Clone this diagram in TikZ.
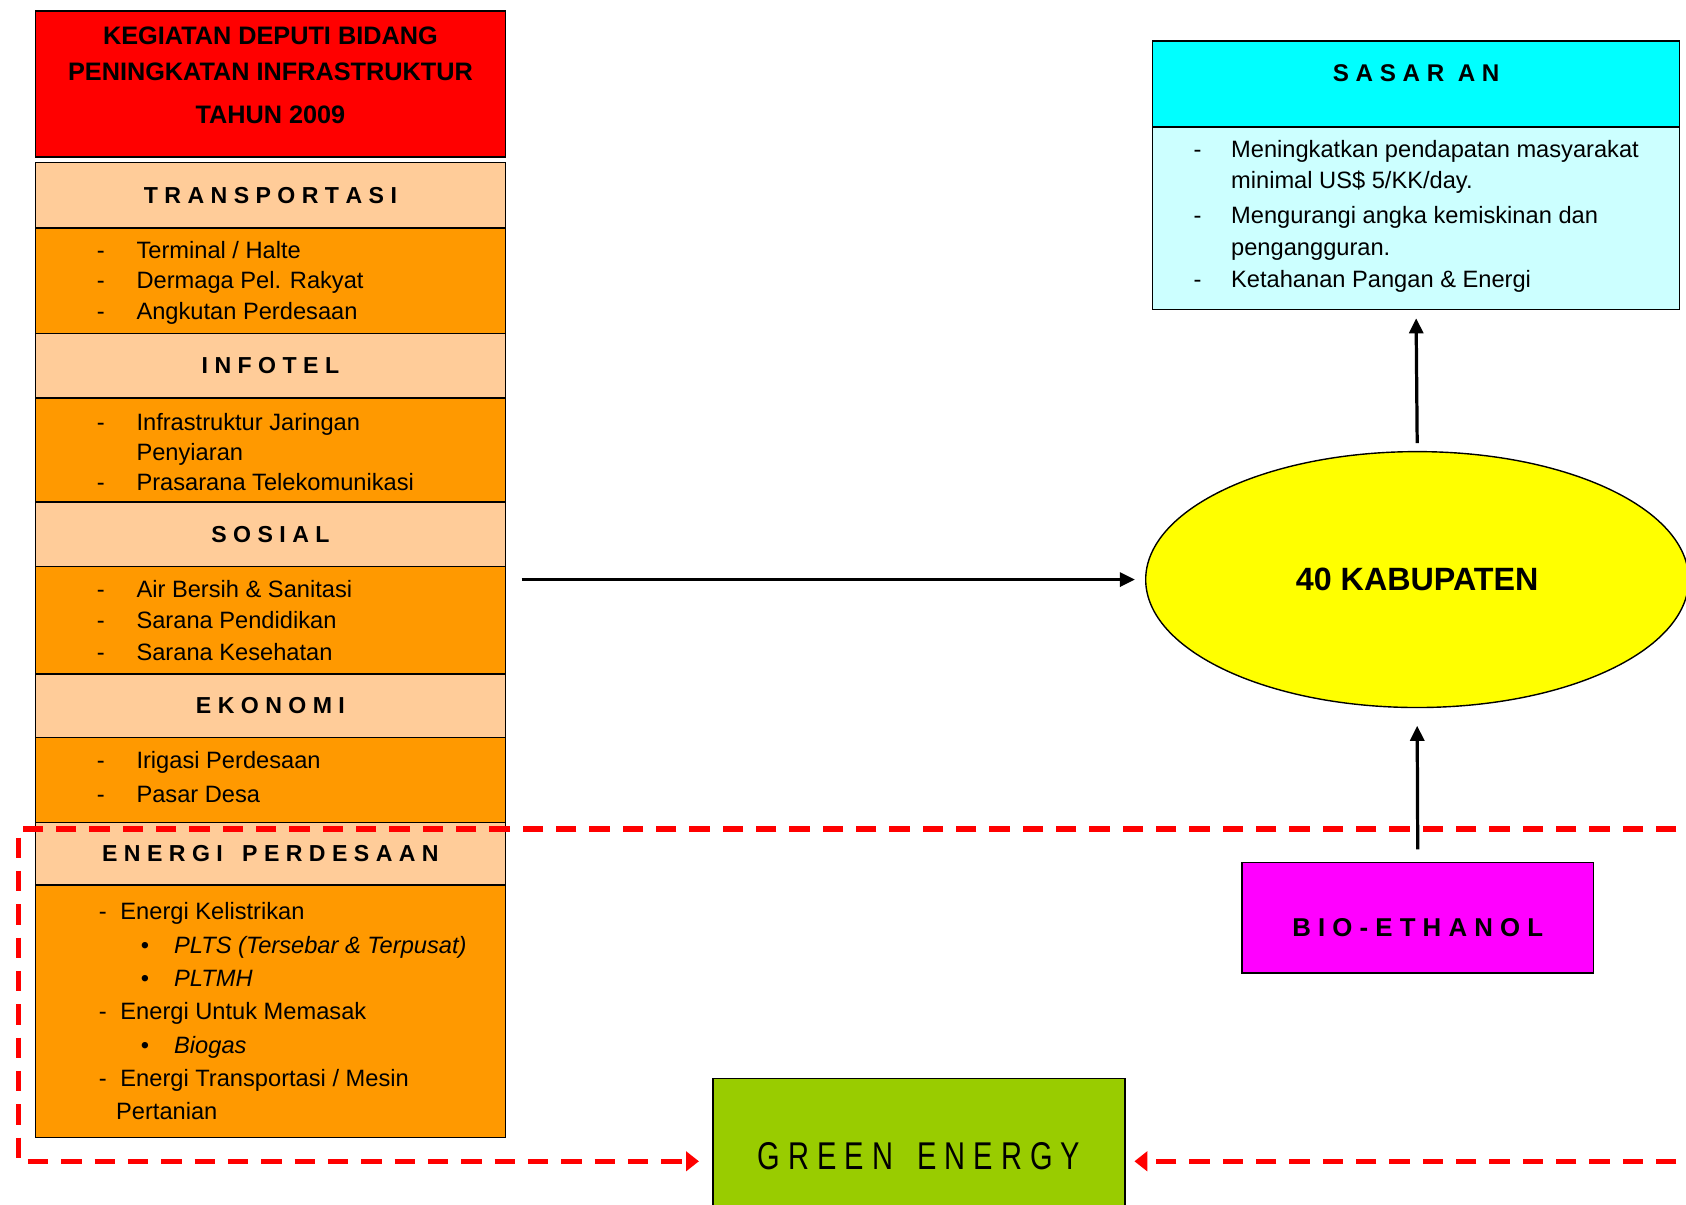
\documentclass[tikz,border=0pt]{standalone}
\usepackage{fontspec}
\setmainfont{Liberation Sans}
\usepackage{graphicx}
\usetikzlibrary{positioning,shapes.geometric,arrows.meta}

\definecolor{merah}{HTML}{FF0000}
\definecolor{krem}{HTML}{FFCC99}
\definecolor{jingga}{HTML}{FF9900}
\definecolor{sian}{HTML}{00FFFF}
\definecolor{sianmuda}{HTML}{CCFFFF}
\definecolor{kuning}{HTML}{FFFF00}
\definecolor{ungu}{HTML}{FF00FF}
\definecolor{hijau}{HTML}{99CC00}

\newcommand{\butir}[1][37pt]{\makebox[#1][l]{-}}
\newcommand{\titik}{\hspace*{39pt}\makebox[31pt][l]{\textbullet}}

\begin{document}
\begin{tikzpicture}[x=1pt, y=-1pt,
        every node/.style={outer sep=0pt},
        kotak/.style={draw, line width=1.5pt, minimum width=437pt, inner sep=0pt},
        kepala/.style={kotak, fill=krem, font=\fontsize{21.5}{26}\selectfont\bfseries},
        isi/.style={kotak, fill=jingga},
        daftar/.style={anchor=west, align=left, inner sep=0pt, font=\fontsize{22}{28}\selectfont},
        panah/.style={line width=3pt, -{Triangle[length=14pt,width=13pt]}},
        putus/.style={draw=merah, line width=5pt, dash pattern=on 19pt off 12pt, -{Triangle[length=12pt,width=18pt]}}
    ]
        \useasboundingbox (0,0) rectangle (1568,1120);

        % Kolom kiri
        \node [kotak, fill=merah, minimum height=136pt] (judul) at (251.5,78) {};
        \node [align=center, font=\fontsize{23.5}{33}\selectfont\bfseries] (judulteks) at (251.5,70)
            {KEGIATAN DEPUTI BIDANG\\PENINGKATAN INFRASTRUKTUR\\[7pt]TAHUN 2009};

        \node [kepala, minimum height=61pt, below=5pt of judul] (hTrans) {T R A N S P O R T A S I};
        \node [isi, minimum height=98pt, below=0pt of hTrans] (iTrans) {};
        \node [kepala, minimum height=60pt, below=0pt of iTrans] (hInfo) {I N F O T E L};
        \node [isi, minimum height=97pt, below=0pt of hInfo] (iInfo) {};
        \node [kepala, minimum height=60pt, below=0pt of iInfo] (hSos) {S O S I A L};
        \node [isi, minimum height=100pt, below=0pt of hSos] (iSos) {};
        \node [kepala, minimum height=59pt, below=0pt of iSos] (hEko) {E K O N O M I};
        \node [isi, minimum height=79pt, below=0pt of hEko] (iEko) {};
        \node [kepala, minimum height=58pt, below=0pt of iEko] (hEner) {E N E R G I\ \ \ P E R D E S A A N};
        \node [isi, minimum height=235pt, below=0pt of hEner] (iEner) {};

        % Isi daftar
        \node [daftar] (tTrans) at ([xshift=57pt,yshift=-2pt]iTrans.west)
            {\butir Terminal / Halte\\\butir Dermaga Pel. Rakyat\\\butir Angkutan Perdesaan};
        \node [daftar] (tInfo) at ([xshift=57pt,yshift=-2pt]iInfo.west)
            {\butir Infrastruktur Jaringan\\\hspace*{37pt}Penyiaran\\\butir Prasarana Telekomunikasi};
        \node [daftar, font=\fontsize{22}{29}\selectfont] (tSos) at ([xshift=57pt]iSos.west)
            {\butir Air Bersih \& Sanitasi\\\butir Sarana Pendidikan\\\butir Sarana Kesehatan};
        \node [daftar, font=\fontsize{22}{31}\selectfont] (tEko) at ([xshift=57pt,yshift=3pt]iEko.west)
            {\butir Irigasi Perdesaan\\\butir Pasar Desa};
        \node [daftar, font=\fontsize{22}{31}\selectfont] (tEner) at ([xshift=59pt]iEner.west)
            {\butir[20pt]Energi Kelistrikan\\
             \titik\textit{PLTS (Tersebar \& Terpusat)}\\
             \titik\textit{PLTMH}\\
             \butir[20pt]Energi Untuk Memasak\\
             \titik\textit{Biogas}\\
             \butir[20pt]Energi Transportasi / Mesin\\
             \hspace*{16pt}Pertanian};

        % Sasaran
        \node [kotak, fill=sian, minimum width=490pt, minimum height=80pt, text height=16pt, text depth=20pt,
               font=\fontsize{22.5}{26}\selectfont\bfseries] (sasaran) at (1317,78) {S A S A R\ \ A N};
        \node [kotak, fill=sianmuda, minimum width=490pt, minimum height=170pt, below=0pt of sasaran] (sasaranisi) {};
        \node [daftar, font=\fontsize{22}{29.5}\selectfont] (tSasaran) at ([xshift=38pt,yshift=2pt]sasaranisi.west)
            {\butir[35pt]Meningkatkan pendapatan masyarakat\\
             \hspace*{35pt}minimal US\$ 5/KK/day.\\[3pt]
             \butir[35pt]Mengurangi angka kemiskinan dan\\
             \hspace*{35pt}pengangguran.\\
             \butir[35pt]Ketahanan Pangan \& Energi};

        % Kabupaten, bio-ethanol, green energy
        \node [ellipse, draw, line width=1.3pt, fill=kuning, minimum width=505pt, minimum height=238pt, inner sep=0pt,
               font=\fontsize{30}{36}\selectfont\bfseries] (kab) at (1318,539) {40 KABUPATEN};
        \node [kotak, fill=ungu, minimum width=327pt, minimum height=103pt, text height=34pt, text depth=0pt,
               font=\fontsize{24}{28}\selectfont\bfseries] (bio) at (1318.5,853.5) {B I O - E T H A N O L};
        \node [kotak, fill=hijau, minimum width=383pt, minimum height=154pt, text height=26pt, text depth=10pt,
               font=\fontsize{36}{40}\selectfont] (hijauE) at (854.5,1080)
            {\scalebox{0.75}[1]{G R E E N\ \ \ E N E R G Y}};

        % Panah
        \coordinate (awal) at (485,539);
        \draw [panah] (awal) -- ([xshift=-10pt]kab.west);
        \draw [panah] ([yshift=8pt]kab.north) -- ([yshift=-8pt]sasaranisi.south);
        \draw [panah] ([yshift=12pt]bio.north) -- ([yshift=-17pt]kab.south);

        % Garis putus-putus
        \coordinate (d1) at (1590,771);
        \coordinate (d2) at (17,771);
        \coordinate (d3) at (17,1080);
        \coordinate (d4) at (1590,1080);
        \draw [putus] (d1) -- (d2) -- (d3) -- ([xshift=-13pt]hijauE.west);
        \draw [putus] (d4) -- ([xshift=9pt]hijauE.east);
\end{tikzpicture}
\end{document}
